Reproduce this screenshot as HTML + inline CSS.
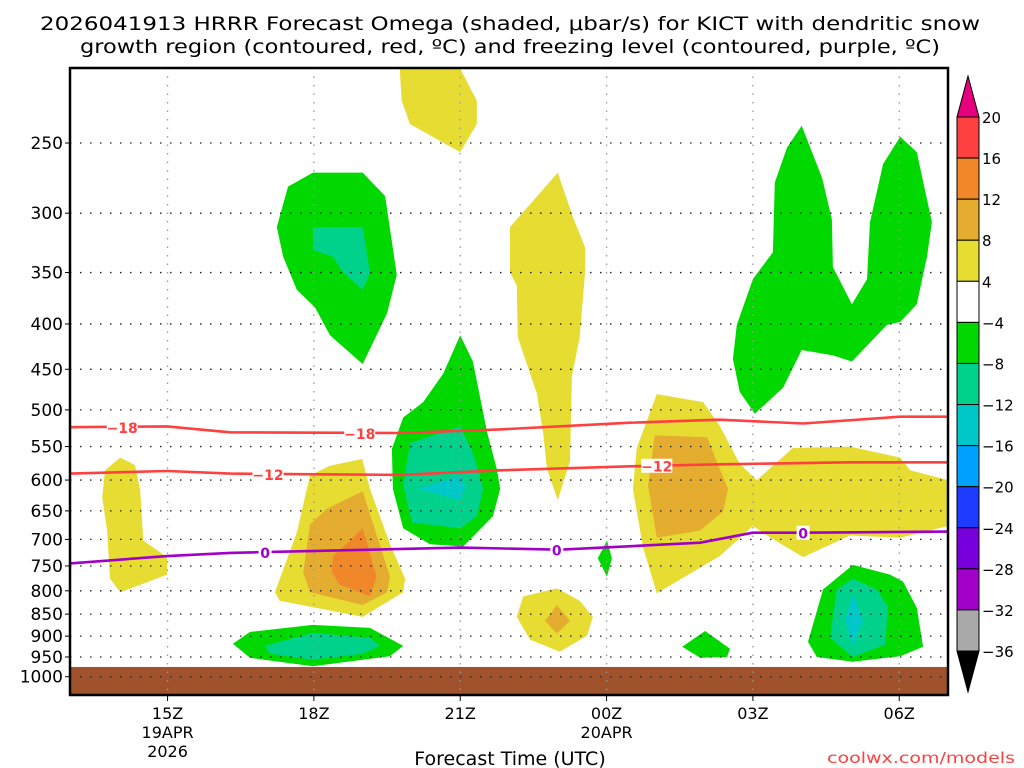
<!DOCTYPE html>
<html><head><meta charset="utf-8"><style>
html,body{margin:0;padding:0;background:#fff;}
svg{display:block;font-family:"DejaVu Sans","Liberation Sans",sans-serif;}
</style></head><body>
<svg id="chart" width="1024" height="768" viewBox="0 0 1024 768" xmlns="http://www.w3.org/2000/svg">
<text x="510" y="30" text-anchor="middle" font-size="19" textLength="940" lengthAdjust="spacingAndGlyphs">2026041913 HRRR Forecast Omega (shaded, μbar/s) for KICT with dendritic snow</text>
<text x="510" y="53" text-anchor="middle" font-size="19" textLength="860" lengthAdjust="spacingAndGlyphs">growth region (contoured, red, ºC) and freezing level (contoured, purple, ºC)</text>
<g id="plot"></g>
<g id="cbar"></g>
<text x="510" y="765" text-anchor="middle" font-size="19">Forecast Time (UTC)</text>
<text x="1015" y="763" text-anchor="end" font-size="15" fill="#ff4040" textLength="188" lengthAdjust="spacingAndGlyphs">coolwx.com/models</text>
</svg>
<script>
// ---- data ----
const pressureLevels=[250,300,350,400,450,500,550,600,650,700,750,800,850,900,950,1000];
const timeTickHours=[2,5,8,11,14,17];
const timeTickLabels=[["15Z","19APR","2026"],["18Z"],["21Z"],["00Z","20APR"],["03Z"],["06Z"]];
const cbarLevels=[20,16,12,8,4,-4,-8,-12,-16,-20,-24,-28,-32,-36];
const cbarColors=["#ff4040","#f0882a","#e5ad30","#e6dc32","#ffffff","#00d800","#00d28c","#00c8c8","#00a0ff","#1e3cff","#7800dc","#a000c8","#a9a9a9"];
// omega regions: [colorIndex, [[hour,hPa],...]]
const omegaRegions=[
[3,[[6.76,206],[8.0,206],[8.34,224],[8.34,238],[8.0,256],[6.97,238],[6.8,224]]],
[5,[[4.24,311],[4.47,280],[4.98,270],[6.0,270],[6.46,287],[6.7,352],[6.5,389],[6.0,444],[5.33,412],[5.02,383],[4.65,366],[4.37,336]]],
[6,[[4.98,311],[6.0,311],[6.15,350],[6.0,366],[5.6,350],[5.39,336],[4.98,330]]],
[5,[[8.0,412],[8.26,441],[8.55,530],[8.75,583],[8.82,614],[8.67,659],[8.06,713],[7.38,709],[6.83,680],[6.62,614],[6.6,553],[6.83,510],[7.24,490],[7.65,455]]],
[6,[[6.97,545],[8.0,522],[8.26,559],[8.47,614],[8.34,659],[8.0,680],[7.01,670],[6.83,608]]],
[7,[[7.11,614],[8.0,593],[8.1,613],[8.0,632]]],
[3,[[5.99,568],[6.15,614],[6.56,709],[6.87,775],[6.83,803],[6.0,856],[4.3,821],[4.2,803],[4.65,688],[4.92,593],[5.33,578]]],
[2,[[6.0,618],[6.56,771],[6.5,803],[6.0,830],[4.92,803],[4.78,763],[4.92,673],[5.27,646]]],
[1,[[6.0,680],[6.29,771],[6.15,812],[5.53,787],[5.37,763],[5.39,731],[5.74,702]]],
[5,[[3.34,918],[3.69,890],[4.98,874],[6.15,881],[6.83,923],[6.56,948],[4.98,973],[3.69,952]]],
[6,[[4.0,923],[4.98,892],[6.15,904],[6.36,923],[6.0,942],[4.98,957],[4.1,942]]],
[3,[[9.02,311],[10.0,270],[10.31,303],[10.56,328],[10.56,350],[10.45,414],[10.29,458],[10.25,571],[10.0,632],[9.78,583],[9.7,530],[9.57,479],[9.18,414],[9.16,362],[9.02,350]]],
[3,[[9.16,856],[9.29,812],[9.98,795],[10.45,821],[10.72,856],[10.6,899],[10.04,937],[9.43,908]]],
[2,[[9.98,830],[10.25,865],[9.98,894],[9.74,865]]],
[5,[[11.01,702],[11.11,735],[11.01,771],[10.82,735]]],
[5,[[15.0,239],[15.42,274],[15.62,305],[15.64,345],[16.03,380],[16.34,356],[16.4,307],[16.67,264],[17.02,246],[17.36,256],[17.67,307],[17.57,336],[17.36,380],[17.02,398],[16.75,401],[16.03,441],[15.64,434],[15.0,428],[14.62,472],[14.04,505],[13.73,477],[13.59,438],[13.67,401],[14.0,356],[14.41,332],[14.45,277],[14.7,253]]],
[3,[[12.03,480],[12.98,490],[13.32,521],[13.73,575],[14.08,600],[14.82,552],[15.99,550],[17.02,566],[17.22,585],[18,600],[18,676],[17.02,697],[15.99,693],[15.03,733],[14.29,693],[14.0,676],[13.32,731],[12.03,805],[11.75,715],[11.54,614],[11.62,552]]],
[2,[[11.99,534],[13.06,537],[13.49,614],[13.39,651],[12.92,684],[12.03,697],[11.85,608]]],
[5,[[12.55,925],[13.02,888],[13.53,930],[13.47,950],[12.92,952]]],
[5,[[15.13,913],[15.44,797],[16.05,748],[16.81,767],[17.08,781],[17.36,836],[17.49,925],[17.02,948],[16.05,962],[15.31,950]]],
[6,[[15.58,904],[15.72,797],[16.05,775],[16.54,797],[16.77,834],[16.71,920],[16.05,950]]],
[7,[[16.05,806],[16.26,863],[16.05,925],[15.89,863]]],
[3,[[1.03,566],[1.33,577],[1.44,616],[1.5,702],[1.99,733],[1.99,767],[1.03,803],[0.82,775],[0.76,684],[0.66,627],[0.72,585]]]
];
const iso18Hours=[0,1.99,3.28,6.77,8.82,11.48,13.32,15.03,17.02,18];
const iso18Press=[523,522,530,531,526,517,513,518,509,509];
const iso12Hours=[0,1.99,3.28,6.77,8.82,11.48,13.32,15.99,18];
const iso12Press=[590,586,590,592,585,579,576,573,573];
const iso0Hours=[0,1.99,3.28,8.0,10.04,12.92,14.0,15.03,18];
const iso0Press=[745,731,725,715,719,706,688,688,686];
const iso18Labels=[1.07,5.94];
const iso12Labels=[4.06,12.03];
const iso0Labels=[4.0,9.98,15.03];
const groundPressure=975;

// ---- axes ----
const X0=70,X1=948,Y0=68,Y1=695,H=18;
const x=h=>X0+h*(X1-X0)/H;
const y=p=>143+385*Math.log(p/250);
const NS="http://www.w3.org/2000/svg";
function mk(tag,attrs,parent){const e=document.createElementNS(NS,tag);for(const k in attrs)e.setAttribute(k,attrs[k]);parent.appendChild(e);return e;}
const plot=document.getElementById('plot');
const defs=mk('defs',{},plot);
const cp=mk('clipPath',{id:'pc'},defs);
mk('rect',{x:X0,y:Y0,width:X1-X0,height:Y1-Y0},cp);
const inner=mk('g',{'clip-path':'url(#pc)'},plot);

omegaRegions.forEach((r,i)=>{
  const pts=r[1].map(d=>x(d[0]).toFixed(1)+','+y(d[1]).toFixed(1)).join(' ');
  const el=mk('polygon',{points:pts,fill:cbarColors[r[0]]},inner);
  
  
});
// ground
const g=mk('rect',{x:X0,y:y(groundPressure),width:X1-X0,height:Y1-y(groundPressure),fill:'#a0522d'},inner);


// gridlines
pressureLevels.forEach(p=>{
  const l=mk('line',{x1:X0,x2:X1,y1:y(p),y2:y(p),stroke:'#222','stroke-width':1.3,'stroke-dasharray':'1.5,8.5'},inner);
  
  
});
timeTickHours.forEach(h=>{
  const l=mk('line',{x1:x(h),x2:x(h),y1:Y0,y2:Y1,stroke:'#999','stroke-width':1.3,'stroke-dasharray':'1.5,7'},inner);
  
  
});
// isotherms
function lineOf(hs,ps,color,name){
  const d=hs.map((h,i)=>(i?'L':'M')+x(h).toFixed(1)+','+y(ps[i]).toFixed(1)).join('');
  const e=mk('path',{d:d,fill:'none',stroke:color,'stroke-width':2.6},inner);
  
  
}
function interp(hs,ps,h){for(let i=1;i<hs.length;i++){if(h<=hs[i]){const t=(h-hs[i-1])/(hs[i]-hs[i-1]);return ps[i-1]+t*(ps[i]-ps[i-1]);}}return ps[ps.length-1];}
function labels(hs,ps,list,txt,color,name){
  list.forEach(h=>{
    const yy=y(interp(hs,ps,h)),xx=x(h);
    const w=txt.length*9+4;
    mk('rect',{x:xx-w/2,y:yy-7,width:w,height:14,fill:'#fff'},inner);
    const t=mk('text',{x:xx,y:yy+6,'text-anchor':'middle','font-size':14,'font-weight':'bold',fill:color},inner);
    t.textContent=txt;
    
    
  });
}
lineOf(iso18Hours,iso18Press,'#ff4040','isotherm-minus18');
lineOf(iso12Hours,iso12Press,'#ff4040','isotherm-minus12');
lineOf(iso0Hours,iso0Press,'#a000c8','freezing-level-line');
labels(iso18Hours,iso18Press,iso18Labels,'−18','#ff4040','isotherm-label-minus18');
labels(iso12Hours,iso12Press,iso12Labels,'−12','#ff4040','isotherm-label-minus12');
labels(iso0Hours,iso0Press,iso0Labels,'0','#a000c8','freezing-level-label');
// frame
const fr=mk('rect',{x:X0,y:Y0,width:X1-X0,height:Y1-Y0,fill:'none',stroke:'#000','stroke-width':2.5},plot);


// y labels
pressureLevels.forEach(p=>{
  mk('line',{x1:X0-5,x2:X0,y1:y(p),y2:y(p),stroke:'#000','stroke-width':1},plot);
  const t=mk('text',{x:X0-7,y:y(p)+6,'text-anchor':'end','font-size':17},plot);
  t.textContent=p;
  
  
});
// x labels
timeTickHours.forEach((h,i)=>{
  mk('line',{x1:x(h),x2:x(h),y1:Y1,y2:Y1+6,stroke:'#000','stroke-width':1},plot);
  timeTickLabels[i].forEach((s,j)=>{
    const t=mk('text',{x:x(h),y:Y1+24+j*19,'text-anchor':'middle','font-size':16},plot);
    t.textContent=s;
    
    
  });
});
// colorbar
const cb=document.getElementById('cbar');
const CX=957,CW=22,CT=117,CB=651,bh=(CB-CT)/cbarColors.length;
const up=mk('polygon',{points:`${CX},${CT} ${CX+CW},${CT} ${CX+CW/2},76`,fill:'#e6007e',stroke:'#000','stroke-width':1},cb);


const dn=mk('polygon',{points:`${CX},${CB} ${CX+CW},${CB} ${CX+CW/2},692`,fill:'#000',stroke:'#000','stroke-width':1},cb);


cbarColors.forEach((c,i)=>{
  const r=mk('rect',{x:CX,y:CT+i*bh,width:CW,height:bh,fill:c,stroke:'#000','stroke-width':1},cb);
  
  
});
cbarLevels.forEach((v,i)=>{
  const t=mk('text',{x:982,y:CT+i*bh+6,'font-size':15},cb);
  t.textContent=v<0?'−'+(-v):String(v);
  
  
});
</script>
</body></html>
